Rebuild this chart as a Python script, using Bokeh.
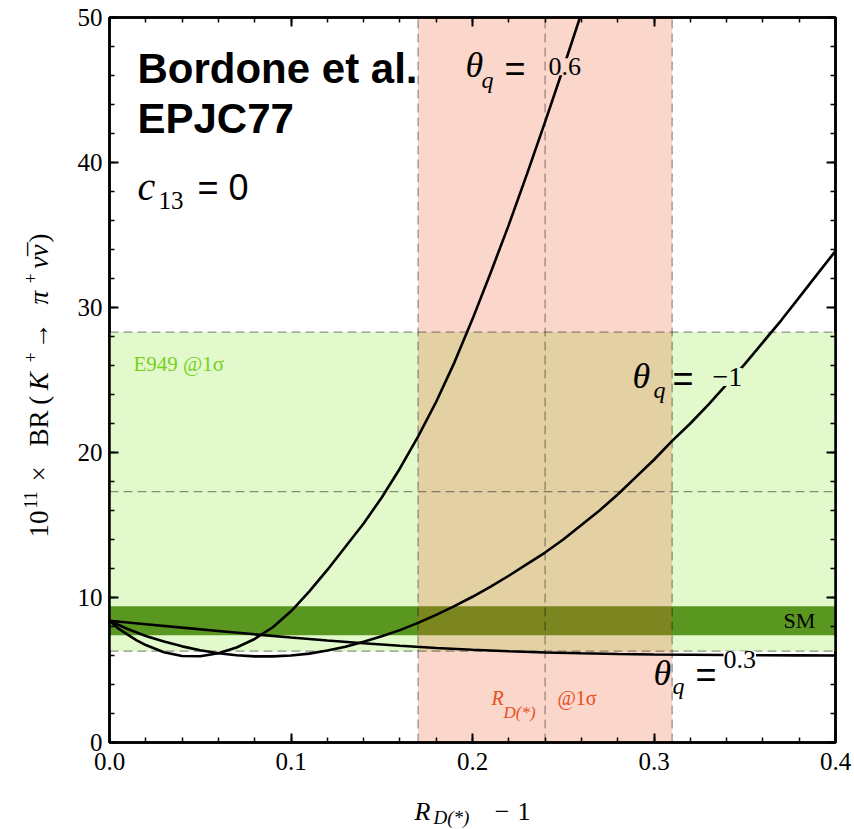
import math
from bokeh.plotting import figure
from bokeh.layouts import row, column
from bokeh.models import (Range1d, LinearAxis, FixedTicker, PrintfTickFormatter,
                          CustomJSTickFormatter, Label)
from bokeh.embed import file_html
from bokeh.resources import INLINE

# ---------------- data ----------------
x_lim = [0.0, 0.4]
y_lim = [0.0, 50.0]
x_major = [0.0, 0.1, 0.2, 0.3, 0.4]
x_minor = [0.0, 0.02, 0.04, 0.06, 0.08, 0.1, 0.12, 0.14, 0.16, 0.18, 0.2,
           0.22, 0.24, 0.26, 0.28, 0.3, 0.32, 0.34, 0.36, 0.38, 0.4]
y_major = [0, 10, 20, 30, 40, 50]
y_minor = [0, 2, 4, 6, 8, 10, 12, 14, 16, 18, 20, 22, 24, 26, 28, 30,
           32, 34, 36, 38, 40, 42, 44, 46, 48, 50]

e949_band = [6.3, 17.3, 28.3]      # low, central, high  (10^11 x BR)
sm_band = [7.4, 9.4]               # SM prediction
rd_band = [0.17, 0.24, 0.31]       # R_D(*) - 1 : low, central, high

# theta_q = 0.6
x_t06 = [0.0, 0.005, 0.01, 0.015, 0.02, 0.03, 0.04, 0.05, 0.06, 0.07, 0.08,
         0.09, 0.10, 0.11, 0.12, 0.13, 0.14, 0.15, 0.16, 0.17, 0.18, 0.19,
         0.20, 0.21, 0.22, 0.23, 0.24, 0.25, 0.26]
br_t06 = [8.40, 7.85, 7.44, 7.05, 6.72, 6.23, 5.97, 5.95, 6.15, 6.55, 7.14,
          7.95, 9.05, 10.4, 11.9, 13.5, 15.1, 16.9, 18.9, 21.1, 23.5, 26.2,
          29.2, 32.4, 35.7, 39.2, 42.8, 46.5, 50.3]

# theta_q = -1
x_tm1 = [0.0, 0.01, 0.02, 0.03, 0.04, 0.05, 0.06, 0.07, 0.08, 0.09, 0.10,
         0.11, 0.12, 0.13, 0.14, 0.15, 0.16, 0.17, 0.18, 0.19, 0.20, 0.21,
         0.22, 0.23, 0.24, 0.25, 0.26, 0.27, 0.28, 0.29, 0.30, 0.31, 0.32,
         0.33, 0.34, 0.35, 0.36, 0.37, 0.38, 0.39, 0.40]
br_tm1 = [8.40, 7.83, 7.35, 6.96, 6.63, 6.36, 6.16, 6.02, 5.94, 5.94, 6.00,
          6.13, 6.34, 6.60, 6.95, 7.33, 7.75, 8.25, 8.80, 9.40, 10.05, 10.75,
          11.5, 12.3, 13.1, 14.0, 15.0, 16.0, 17.1, 18.3, 19.5, 20.8, 22.0,
          23.3, 24.7, 26.1, 27.6, 29.1, 30.7, 32.3, 33.9]

# theta_q = 0.3
x_t03 = [0.0, 0.02, 0.04, 0.06, 0.08, 0.10, 0.12, 0.14, 0.16, 0.18, 0.20,
         0.22, 0.24, 0.26, 0.28, 0.30, 0.32, 0.34, 0.36, 0.38, 0.40]
br_t03 = [8.40, 8.16, 7.92, 7.69, 7.46, 7.24, 7.03, 6.84, 6.67, 6.52, 6.40,
          6.29, 6.21, 6.15, 6.10, 6.07, 6.05, 6.03, 6.02, 6.01, 6.00]

# ---------------- style ----------------
SERIF = "Liberation Serif"
SANS = "Liberation Sans"
LIGHT_GREEN = "#E2F9CB"
SM_GREEN = "#5A9721"
RED = "#E94D1D"
E949_TEXT = "#76D01C"

FRAME_W, FRAME_H = 726, 725
LEFT_W = 60
PX_PER_Y = FRAME_H / (y_lim[1] - y_lim[0])   # pixels per y unit
SHIFT = 0.35                                  # label anchor correction (x font size)

x_range = Range1d(x_lim[0], x_lim[1])
y_range = Range1d(y_lim[0], y_lim[1])

p = figure(frame_width=FRAME_W, frame_height=FRAME_H,
           x_range=x_range, y_range=y_range,
           output_backend="svg", toolbar_location=None,
           min_border_left=49, min_border_right=19, min_border_top=17,
           min_border_bottom=45, background_fill_color="white",
           border_fill_color="white")
p.grid.visible = False
p.outline_line_color = "black"
p.outline_line_width = 2.5


def style_axis(ax, ticks, minor):
    ax.ticker = FixedTicker(ticks=ticks, minor_ticks=minor)
    ax.axis_line_width = 2.5
    ax.axis_line_color = "black"
    ax.major_tick_in = 9
    ax.major_tick_out = 0
    ax.minor_tick_in = 5
    ax.minor_tick_out = 0
    ax.major_tick_line_width = 2
    ax.minor_tick_line_width = 1.5
    ax.major_tick_line_color = "black"
    ax.minor_tick_line_color = "black"
    ax.major_label_text_font = SERIF
    ax.major_label_text_font_size = "25px"
    ax.major_label_text_color = "black"


xb = p.xaxis[0]
style_axis(xb, x_major, x_minor)
xb.formatter = PrintfTickFormatter(format="%.1f")
xb.major_label_standoff = 10

yl = p.yaxis[0]
style_axis(yl, y_major, y_minor)
yl.major_label_standoff = 7

for loc, ticks, minor in (("above", x_major, x_minor), ("right", y_major, y_minor)):
    ax = LinearAxis()
    style_axis(ax, ticks, minor)
    ax.formatter = CustomJSTickFormatter(code="return ''")
    ax.major_label_text_font_size = "0px"
    ax.major_label_standoff = 0
    p.add_layout(ax, loc)

# ---------------- bands ----------------
p.quad(left=[x_lim[0]], right=[x_lim[1]], bottom=[e949_band[0]], top=[e949_band[2]],
       fill_color=LIGHT_GREEN, line_color=None)
p.quad(left=[x_lim[0]], right=[x_lim[1]], bottom=[sm_band[0]], top=[sm_band[1]],
       fill_color=SM_GREEN, line_color=None)
p.quad(left=[rd_band[0]], right=[rd_band[2]], bottom=[y_lim[0]], top=[y_lim[1]],
       fill_color=RED, fill_alpha=0.23, line_color=None)

# dashed lines (band edges and centres)
p.segment(x0=[x_lim[0]] * 3, x1=[x_lim[1]] * 3, y0=e949_band, y1=e949_band,
          line_color="black", line_alpha=0.42, line_width=1.2, line_dash="9 5")
p.segment(x0=rd_band, x1=rd_band, y0=[y_lim[0]] * 3, y1=[y_lim[1]] * 3,
          line_color="black", line_alpha=0.42, line_width=1.2, line_dash="9 5")

# ---------------- curves ----------------
for xs, ys in ((x_t06, br_t06), (x_tm1, br_tm1), (x_t03, br_t03)):
    p.line(xs, ys, line_color="black", line_width=2.6)


# ---------------- labels ----------------
def lab(fig, text, x, y, size, font=SERIF, style="normal", color="black",
        bg=None, angle=0.0, px_per_y=PX_PER_Y):
    """x, y = wanted baseline start; corrected for the anchor offset."""
    if angle == 0.0:
        y = y + SHIFT * size / px_per_y
    else:
        x = x - SHIFT * size
    l = Label(x=x, y=y, text=text, text_font=font, text_font_size=f"{size}px",
              text_font_style=style, text_color=color, text_align="left",
              text_baseline="alphabetic", angle=angle)
    if bg is not None:
        l.background_fill_color = bg
        l.background_fill_alpha = 1.0
    fig.add_layout(l)


lab(p, "Bordone et al.", 0.0154, 45.5, 42, font=SANS, style="bold")
lab(p, "EPJC77", 0.0154, 42.05, 42, font=SANS, style="bold")
lab(p, "c", 0.0154, 37.35, 40, style="italic")
lab(p, "13", 0.0270, 36.75, 25)
lab(p, "= 0", 0.0485, 37.4, 36, font=SANS)

lab(p, "E949 @1\u03c3", 0.0132, 25.6, 21, color=E949_TEXT)
lab(p, "SM", 0.3713, 7.91, 22)

lab(p, "R", 0.2105, 2.6, 20, style="italic", color=RED)
lab(p, "D(*)", 0.2171, 1.63, 17, style="italic", color=RED)
lab(p, "@1\u03c3", 0.2468, 2.6, 20, color=RED)

# theta_q = 0.6
lab(p, "\u03b8", 0.1961, 45.84, 36, style="italic")
lab(p, "q", 0.2050, 45.08, 24, style="italic")
lab(p, "=", 0.2176, 45.6, 36, font=SANS)
lab(p, "0.6", 0.2419, 45.98, 26, bg="#FAD6CB")

# theta_q = -1
lab(p, "\u03b8", 0.2882, 24.39, 36, style="italic")
lab(p, "q", 0.2997, 23.70, 24, style="italic")
lab(p, "=", 0.3102, 24.26, 36, font=SANS)
lab(p, "\u22121", 0.3322, 24.53, 28, bg=LIGHT_GREEN)

# theta_q = 0.3
lab(p, "\u03b8", 0.2997, 3.91, 36, style="italic")
lab(p, "q", 0.3102, 3.29, 24, style="italic")
lab(p, "=", 0.3229, 3.84, 36, font=SANS)
lab(p, "0.3", 0.3383, 5.08, 26, bg="white")

# ---------------- y-axis title (left strip, shares the y range) ----------------
left = figure(frame_width=LEFT_W, frame_height=FRAME_H,
              x_range=Range1d(0, LEFT_W), y_range=y_range,
              x_axis_type=None, y_axis_type=None,
              output_backend="svg", toolbar_location=None,
              min_border_left=0, min_border_right=0, min_border_top=17,
              min_border_bottom=45, background_fill_color="white",
              border_fill_color="white")
left.grid.visible = False
left.outline_line_color = None
up = math.pi / 2
# 10^{11} x BR(K^+ -> pi^+ nu nubar)
lab(left, "10", 48, 14.14, 27, angle=up)
lab(left, "11", 36, 16.14, 18, angle=up)
lab(left, "\u00d7", 48, 18.0, 27, angle=up)
lab(left, "BR", 48, 20.41, 27, angle=up)
lab(left, "(", 48, 23.30, 27, angle=up)
lab(left, "K", 48, 24.30, 27, style="italic", angle=up)
lab(left, "+", 36, 26.21, 18, angle=up)
lab(left, "\u2192", 48, 27.10, 27, angle=up)
lab(left, "\u03c0", 48, 30.21, 27, style="italic", angle=up)
lab(left, "+", 36, 31.66, 18, angle=up)
lab(left, "\u03bd\u03bd", 48, 32.69, 27, style="italic", angle=up)
lab(left, "\u00af", 48, 33.55, 27, angle=up)
lab(left, ")", 48, 34.48, 27, angle=up)

# ---------------- x-axis title (bottom strip, shares the x range) ----------------
BOTTOM_H = 42
bottom = figure(frame_width=FRAME_W, frame_height=BOTTOM_H,
                x_range=x_range, y_range=Range1d(0, BOTTOM_H),
                x_axis_type=None, y_axis_type=None,
                output_backend="svg", toolbar_location=None,
                min_border_left=LEFT_W + 49, min_border_right=19, min_border_top=0,
                min_border_bottom=0, background_fill_color="white",
                border_fill_color="white")
bottom.grid.visible = False
bottom.outline_line_color = None
# R_{D(*)} - 1
lab(bottom, "R", 0.1680, 9, 26, style="italic", px_per_y=1.0)
lab(bottom, "D(*)", 0.1785, 5, 19, style="italic", px_per_y=1.0)
lab(bottom, "\u2212", 0.2122, 9, 26, px_per_y=1.0)
lab(bottom, "1", 0.2248, 9, 26, px_per_y=1.0)

layout = column(row(left, p), bottom)
open("out.html", "w").write(file_html(layout, INLINE))
